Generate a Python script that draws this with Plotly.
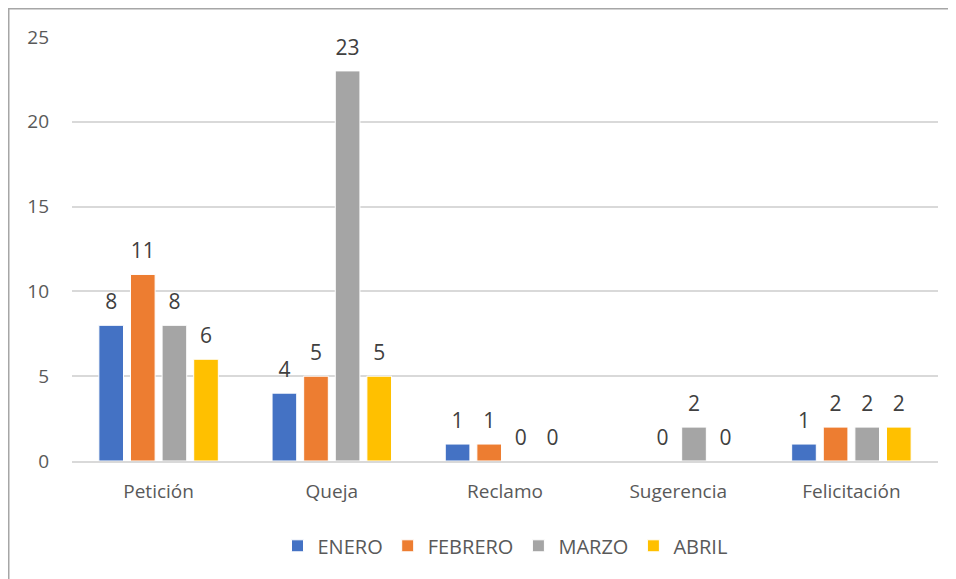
import plotly.graph_objects as go

categories = ["Petición", "Queja", "Reclamo", "Sugerencia", "Felicitación"]
months = ["ENERO", "FEBRERO", "MARZO", "ABRIL"]
enero = [8, 4, 1, None, 1]
febrero = [11, 5, 1, 0, 2]
marzo = [8, 23, 0, 2, 2]
abril = [6, 5, 0, 0, 2]

series = [enero, febrero, marzo, abril]
colors = ["#4472C4", "#ED7D31", "#A5A5A5", "#FFC000"]
FONT = "Open Sans"

fig = go.Figure()
for name, vals, col in zip(months, series, colors):
    fig.add_trace(go.Bar(
        x=categories, y=vals, name=name,
        marker=dict(color=col, line=dict(color="white", width=1)),
    ))

# data labels, placed with the same grouping as the bars
for name, vals in zip(months, series):
    fig.add_trace(go.Scatter(
        x=categories, y=vals, mode="markers+text", showlegend=False, hoverinfo="skip",
        text=["" if v is None else str(v) for v in vals],
        textposition="top center",
        textfont=dict(family=FONT, size=21, color="#404040"),
        marker=dict(size=16, opacity=0),
        cliponaxis=False,
    ))

L, R, T, B = 64, 18, 29, 118
W, H = 948, 571
pw, ph = W - L - R, H - T - B

# chart border
fig.add_shape(type="rect", xref="paper", yref="paper",
              x0=-(L - 0.75) / pw, y0=-0.6, x1=1.3, y1=1 + (T - 0.75) / ph,
              line=dict(color="#A6A6A6", width=1.5), fillcolor="rgba(0,0,0,0)")

fig.update_layout(
    width=W, height=H,
    margin=dict(l=L, r=R, t=T, b=B),
    plot_bgcolor="white", paper_bgcolor="white",
    barmode="group", bargap=0.27, bargroupgap=0.22,
    scattermode="group", scattergap=0.27,
    font=dict(family=FONT, size=18, color="#595959"),
    legend=dict(orientation="h", x=0.5, xanchor="center", y=-0.2, yanchor="middle",
                font=dict(family=FONT, size=20, color="#595959"),
                itemwidth=30, traceorder="normal"),
    xaxis=dict(showgrid=False, showline=True, linecolor="#D9D9D9", linewidth=1.5,
               ticks="outside", ticklen=12, tickcolor="rgba(0,0,0,0)",
               tickfont=dict(family=FONT, size=19, color="#595959")),
    yaxis=dict(range=[0, 25], dtick=5, showgrid=True, gridcolor="#D9D9D9", gridwidth=1.5,
               zeroline=False, showline=False, ticklabelstandoff=22,
               tickfont=dict(family=FONT, size=19, color="#595959")),
)

fig.write_html("out.html")
